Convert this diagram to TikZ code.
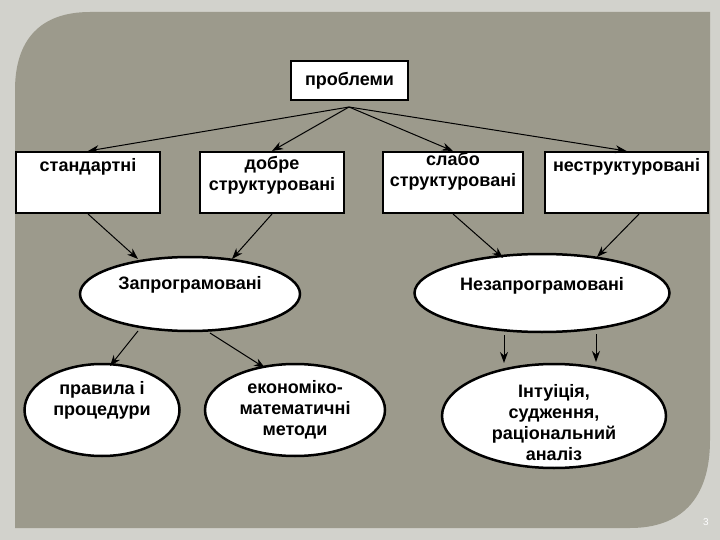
\documentclass[tikz,border=0pt]{standalone}
\usepackage{fontspec}
\setmainfont{Liberation Sans}
\usetikzlibrary{shapes.geometric,arrows.meta}
\definecolor{outerbg}{HTML}{D2D2CC}
\definecolor{innerbg}{HTML}{9C9A8C}
\tikzset{
 box/.style={draw=black,line width=2pt,fill=white,minimum width=#1,minimum height=61pt,inner sep=0pt},
 ell/.style={draw=black,line width=2.5pt,fill=white,ellipse,inner sep=0pt},
 con/.style={-{Stealth[length=11pt,width=8pt]},line width=1pt},
 lab/.style={font=\fontsize{18}{21}\selectfont\bfseries,align=center}
}
\begin{document}
\begin{tikzpicture}[x=1pt,y=-1pt]
\useasboundingbox (0,0) rectangle (720,540);
\fill[outerbg] (0,0) rectangle (720,540);
\fill[innerbg] (15,90) .. controls (15,40) and (40,12) .. (90,12) -- (710,12) -- (710,440) .. controls (710,500) and (680,528) .. (630,528) -- (15,528) -- cycle;
\node[box=117pt,minimum height=39pt] (p) at (349.5,80.5) {};
\node[lab] at (p) {проблеми};
\node[box=144pt] (s) at (88,182.5) {};
\node[lab,anchor=north] at (s.north) [yshift=-4pt] {стандартні};
\node[box=144pt] (d) at (272,182.5) {};
\node[lab,anchor=north] at (d.north) [yshift=-2pt] {добре\\структуровані};
\node[box=140pt] (sl) at (453,182.5) {};
\node[lab,anchor=north] at (sl.north) [yshift=2pt] {слабо\\структуровані};
\node[box=163pt] (n) at (626.5,182.5) {};
\node[lab,anchor=north] at (n.north) [yshift=-4pt] {неструктуровані};
\node[ell,minimum width=220pt,minimum height=74pt] (z) at (190,294) {};
\node[lab] at (190,285) {Запрограмовані};
\node[ell,minimum width=255pt,minimum height=78pt] (nz) at (542,293) {};
\node[lab] at (542,286) {Незапрограмовані};
\node[ell,minimum width=155pt,minimum height=92pt] (r) at (102,410) {};
\node[lab,anchor=north] at (102,378) {правила і\\процедури};
\node[ell,minimum width=180pt,minimum height=92pt] (e) at (295,410) {};
\node[lab] at (295,410) {економіко-\\математичні\\методи};
\node[ell,minimum width=224pt,minimum height=104pt] (i) at (554,416) {};
\node[lab] at (554,423) {Інтуіція,\\судження,\\раціональний\\аналіз};
\node[font=\fontsize{10}{12}\selectfont,white] (pg) at (706,522) {3};
\coordinate (pb) at (349,107);
\coordinate (z1) at (138,259);
\coordinate (z2) at (232,259);
\coordinate (n1) at (503,258);
\coordinate (n2) at (597,257);
\coordinate (r1) at (110,366);
\coordinate (e1) at (265,368);
\coordinate (i1) at (504,363);
\coordinate (i2) at (596,362);
\draw[con] (pb) -- (s.north);
\draw[con] (pb) -- (d.north);
\draw[con] (pb) -- (sl.north);
\draw[con] (pb) -- (n.north);
\draw[con] (s.south) -- (z1);
\draw[con] (d.south) -- (z2);
\draw[con] (sl.south) -- (n1);
\draw[con] (640,213) -- (n2);
\draw[con] (138,331) -- (r1);
\draw[con] (210,333) -- (e1);
\draw[con] (504,335) -- (i1);
\draw[con] (596,334) -- (i2);
\end{tikzpicture}
\end{document}
